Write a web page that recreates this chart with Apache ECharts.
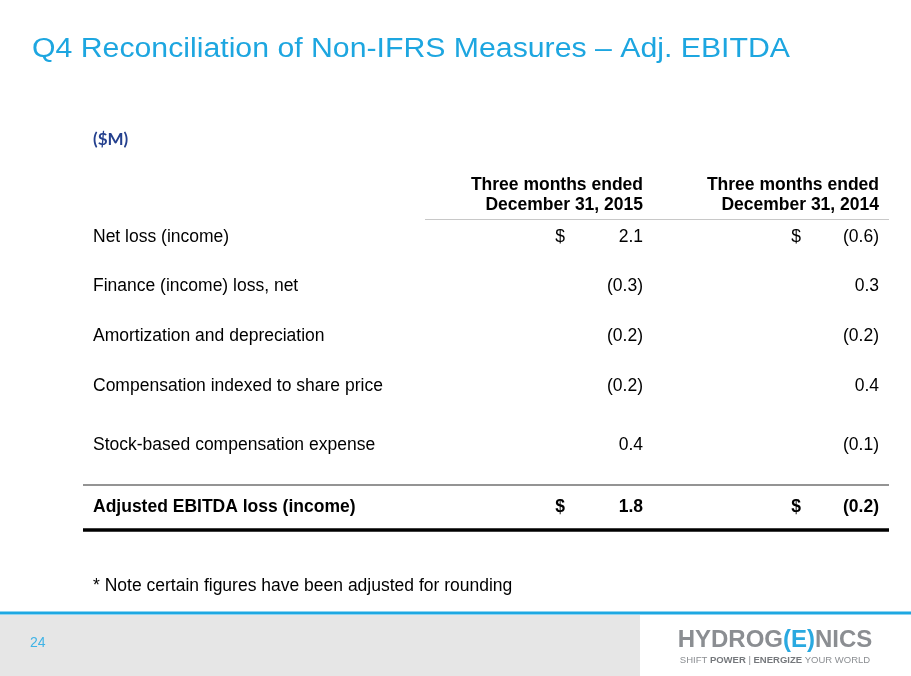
<!DOCTYPE html>
<html>
<head>
<meta charset="utf-8">
<script src="https://cdn.jsdelivr.net/npm/echarts@6/dist/echarts.min.js"></script>
<style>
  html, body { margin: 0; padding: 0; background: #fff; }
  #main { width: 911px; height: 676px; }
</style>
</head>
<body>
<div id="main"></div>
<script>
const titleText = 'Q4 Reconciliation of Non-IFRS Measures \u2013 Adj. EBITDA';
const unitLabel = '($M)';
const columnHeaders = [
  ['Three months ended', 'December 31, 2015'],
  ['Three months ended', 'December 31, 2014']
];
const rowLabels = [
  'Net loss (income)',
  'Finance (income) loss, net',
  'Amortization and depreciation',
  'Compensation indexed to share price',
  'Stock-based compensation expense'
];
const values2015 = [2.1, -0.3, -0.2, -0.2, 0.4];
const values2014 = [-0.6, 0.3, -0.2, 0.4, -0.1];
const totalLabel = 'Adjusted EBITDA loss (income)';
const total2015 = 1.8;
const total2014 = -0.2;
const dollarRows = [0]; // rows that show a $ sign
const noteText = '* Note certain figures have been adjusted for rounding';
const pageNumber = '24';

// layout (pixels)
const rowY = [237, 286, 336, 386, 445];
const totalY = 507;
const colRight = [643, 879];
const dollarX = [560, 796];
const labelX = 93;
const font = '"Liberation Sans", Arial, sans-serif';

function fmt(v) {
  return v < 0 ? '(' + Math.abs(v).toFixed(1) + ')' : v.toFixed(1);
}

const chart = echarts.init(document.getElementById('main'));
const els = [];

function txt(x, y, text, opts, sx) {
  els.push({
    type: 'text', x: x, y: y, silent: true, scaleX: sx || 1,
    style: Object.assign({
      text: text, fill: '#000', fontFamily: font, fontSize: 17.5,
      textAlign: 'left', textVerticalAlign: 'middle'
    }, opts || {})
  });
}
function line(x1, y1, x2, y2, color, w) {
  els.push({ type: 'line', silent: true, shape: { x1, y1, x2, y2 }, style: { stroke: color, lineWidth: w } });
}

// title + unit
txt(32, 50, titleText, { fill: '#1da6e0', fontSize: 27 }, 1.12);
txt(93, 140, unitLabel, { fill: '#24408e', fontSize: 17, fontWeight: 'bold', fontFamily: 'Lato, sans-serif' });

// column headers
columnHeaders.forEach((h, c) => {
  txt(colRight[c], 185, h[0], { textAlign: 'right', fontWeight: 'bold' });
  txt(colRight[c], 205, h[1], { textAlign: 'right', fontWeight: 'bold' });
});
line(425, 219.5, 889, 219.5, '#c8c8c8', 1);

// body rows
rowLabels.forEach((lab, i) => {
  txt(labelX, rowY[i], lab);
  txt(colRight[0], rowY[i], fmt(values2015[i]), { textAlign: 'right' });
  txt(colRight[1], rowY[i], fmt(values2014[i]), { textAlign: 'right' });
  if (dollarRows.indexOf(i) >= 0) {
    txt(dollarX[0], rowY[i], '$', { textAlign: 'center' });
    txt(dollarX[1], rowY[i], '$', { textAlign: 'center' });
  }
});

// total row
line(83, 485, 889, 485, '#707070', 1.3);
txt(labelX, totalY, totalLabel, { fontWeight: 'bold' });
txt(dollarX[0], totalY, '$', { textAlign: 'center', fontWeight: 'bold' });
txt(dollarX[1], totalY, '$', { textAlign: 'center', fontWeight: 'bold' });
txt(colRight[0], totalY, fmt(total2015), { textAlign: 'right', fontWeight: 'bold' });
txt(colRight[1], totalY, fmt(total2014), { textAlign: 'right', fontWeight: 'bold' });
line(83, 530, 889, 530, '#000', 3.5);

// note
txt(93, 586, noteText);

// footer
els.push({ type: 'rect', silent: true, shape: { x: 0, y: 615, width: 640, height: 61 }, style: { fill: '#e6e6e6' } });
line(0, 613, 911, 613, '#1ea8e2', 3);
txt(30, 643, pageNumber, { fill: '#3fb3e6', fontSize: 14 });
els.push({
  type: 'text', x: 775, y: 640, silent: true,
  style: {
    text: '{g|HYDROG}{b|(E)}{g|NICS}',
    textAlign: 'center', textVerticalAlign: 'middle',
    rich: {
      g: { fill: '#8b8e92', fontFamily: font, fontWeight: 'bold', fontSize: 24 },
      b: { fill: '#2aa9e0', fontFamily: font, fontWeight: 'bold', fontSize: 24 }
    }
  }
});
els.push({
  type: 'text', x: 775, y: 660, silent: true,
  style: {
    text: '{l|SHIFT }{d|POWER}{l| | }{d|ENERGIZE}{l| YOUR WORLD}',
    textAlign: 'center', textVerticalAlign: 'middle',
    rich: {
      l: { fill: '#8b8e92', fontFamily: font, fontSize: 9.5 },
      d: { fill: '#75787c', fontFamily: font, fontSize: 9.5, fontWeight: 'bold' }
    }
  }
});

chart.setOption({
  animation: false,
  backgroundColor: '#fff',
  graphic: { elements: els }
});
</script>
</body>
</html>
